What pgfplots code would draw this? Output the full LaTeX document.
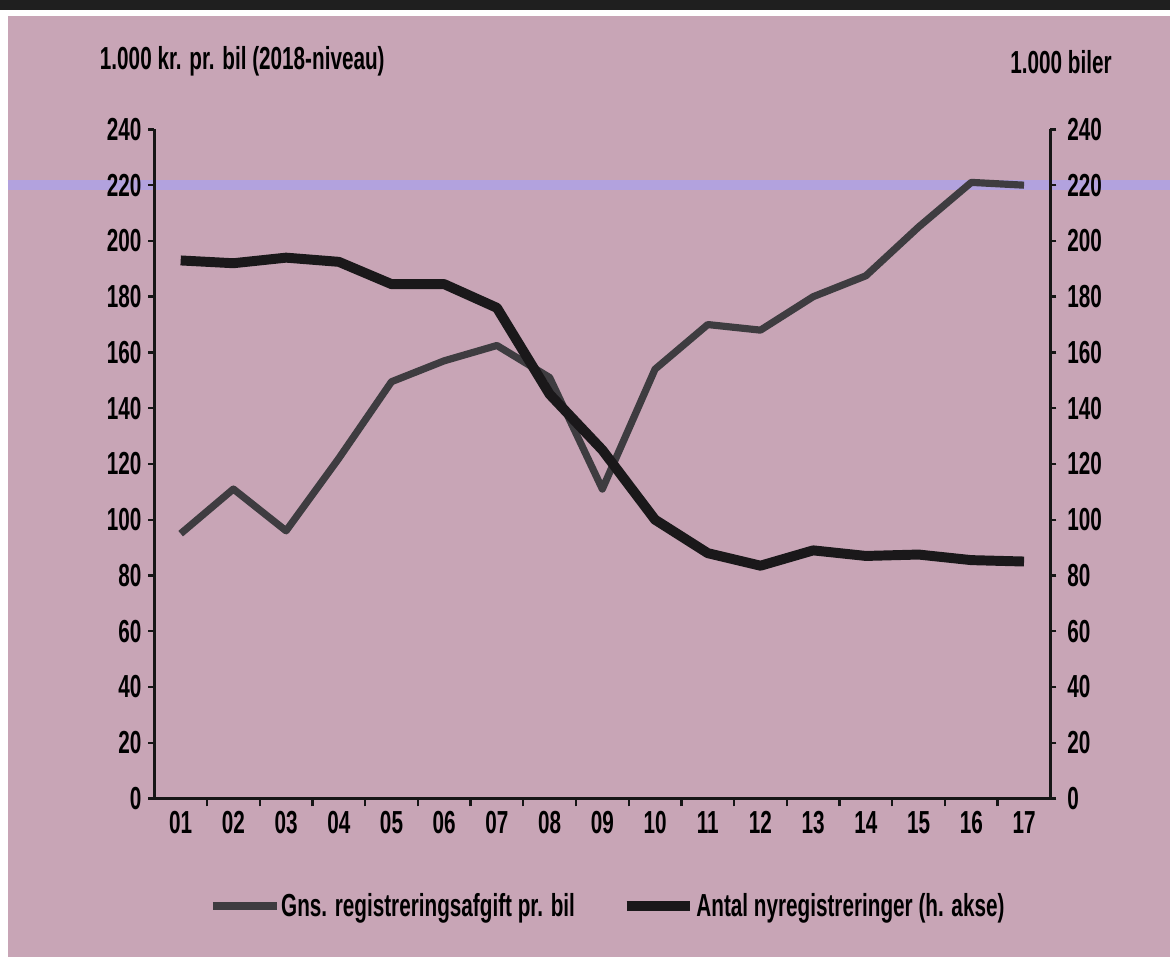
\documentclass[border=0pt]{standalone}
\usepackage{fontspec}
\setmainfont{Liberation Sans}[FakeStretch=0.65]
\usepackage{pgfplots}
\pgfplotsset{compat=1.18}
\definecolor{bgpink}{RGB}{200,165,182}
\definecolor{lav}{RGB}{178,162,222}
\definecolor{grayline}{RGB}{62,60,64}
\definecolor{blackline}{RGB}{26,24,26}
\definecolor{axcol}{RGB}{22,22,22}
\pgfplotsset{myax/.style={at={(0,0)}, anchor=south west, scale only axis,
  width=450pt, height=336pt, xmin=0.5, xmax=17.5, ymin=0, ymax=240}}
\newcommand{\lbl}{\fontsize{16}{18}\selectfont\bfseries}
\begin{document}
\begin{tikzpicture}
\fill[white] (-77.5pt,-85pt) rectangle (510pt,401pt);
\fill[bgpink] (-73.5pt,-79.5pt) rectangle (510pt,393pt);
\fill[black!88] (-77.5pt,396pt) rectangle (510pt,401pt);
\begin{axis}[myax, hide axis, clip=false]
\addplot[lav, line width=5pt] coordinates {(-2.28,220) (19.77,220)};
\end{axis}
\begin{axis}[myax,
  axis x line=bottom, axis y line=left,
  axis line style={-, line width=1.8pt, axcol},
  xtick={1,2,...,17},
  xticklabels={01,02,03,04,05,06,07,08,09,10,11,12,13,14,15,16,17},
  major x tick style={draw=none},
  minor xtick={1.5,2.5,...,16.5},
  minor x tick style={line width=1.2pt, axcol},
  ytick={0,20,...,240},
  tick align=outside, major tick length=3pt, minor tick length=4pt,
  y tick style={line width=1.2pt, axcol},
  tick label style={font=\lbl},
  /pgf/number format/assume math mode=true,
  clip=false]
\addplot[grayline, line width=3.6pt, line join=round] coordinates {
(1,95) (2,111) (3,96) (4,122) (5,149.5) (6,157) (7,162.5) (8,151) (9,111)
(10,154) (11,170) (12,168) (13,180) (14,187.5) (15,205) (16,221) (17,220)};
\end{axis}
\begin{axis}[myax,
  axis x line=none, axis y line=right,
  axis line style={-, line width=1.8pt, axcol},
  ytick={0,20,...,240},
  tick align=outside, major tick length=3pt,
  y tick style={line width=1.2pt, axcol},
  tick label style={font=\lbl},
  yticklabel style={xshift=2pt},
  /pgf/number format/assume math mode=true,
  clip=false,
  legend style={at={(0.5056,-0.1607)}, anchor=center, draw=none, fill=none,
    font=\lbl, legend columns=2, nodes={inner sep=0.5pt},
    /tikz/every even column/.append style={column sep=23pt}},
  legend image code/.code={\draw[#1] (0pt,0pt) -- (32pt,0pt);}]
\addlegendimage{grayline, line width=3.6pt}
\addlegendentry{Gns. registreringsafgift pr. bil}
\addplot[blackline, line width=5pt, line join=round] coordinates {
(1,193) (2,192) (3,194) (4,192.5) (5,184.5) (6,184.5) (7,176) (8,145) (9,125)
(10,100) (11,88) (12,83.5) (13,89) (14,87) (15,87.5) (16,85.5) (17,85)};
\addlegendentry{Antal nyregistreringer (h. akse)}
\end{axis}
\node[anchor=west, inner sep=0, font=\lbl] at (-27.5pt,370pt) {1.000 kr. pr. bil (2018-niveau)};
\node[anchor=east, inner sep=0, font=\lbl] at (481pt,370pt) {1.000 biler};
\end{tikzpicture}
\end{document}
